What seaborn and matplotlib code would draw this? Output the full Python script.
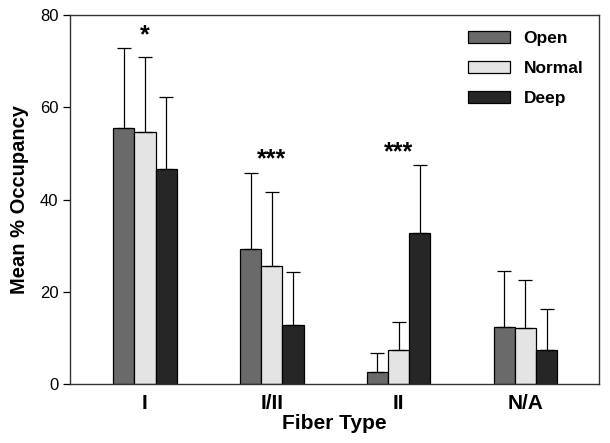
import pandas as pd
import matplotlib.pyplot as plt
import seaborn as sns
import numpy as np

# --- data ---
fiber_types = ['I', 'I/II', 'II', 'N/A']
conditions = ['Open', 'Normal', 'Deep']
open_mean = [55.5, 29.2, 2.6, 12.4]
normal_mean = [54.7, 25.7, 7.3, 12.1]
deep_mean = [46.6, 12.9, 32.8, 7.4]
open_sd = [17.3, 16.6, 4.2, 12.1]
normal_sd = [16.1, 15.9, 6.1, 10.5]
deep_sd = [15.7, 11.5, 14.6, 8.8]
signif = ['*', '***', '***', '']

colors = ['#6a6a6a', '#e4e4e4', '#262626']

rows = []
for cond, means, sds in zip(conditions, [open_mean, normal_mean, deep_mean],
                            [open_sd, normal_sd, deep_sd]):
    for ft, m, s in zip(fiber_types, means, sds):
        rows.append({'Fiber Type': ft, 'Condition': cond, 'Mean': m, 'SD': s})
df = pd.DataFrame(rows)

sns.set_style('ticks', {'text.color': 'black', 'axes.labelcolor': 'black',
                        'xtick.color': 'black', 'ytick.color': 'black'})
plt.rcParams['font.family'] = ['Liberation Sans', 'DejaVu Sans']

fig = plt.figure(figsize=(6.1, 4.43), dpi=100)
ax = fig.add_axes([0.115, 0.133, 0.867, 0.833])

sns.barplot(data=df, x='Fiber Type', y='Mean', hue='Condition',
            order=fiber_types, hue_order=conditions, palette=colors,
            errorbar=None, width=0.5, edgecolor='black', linewidth=0.9,
            saturation=1, ax=ax)

# one-sided (upward) error bars on each bar
for cond, container in zip(conditions, ax.containers):
    sub = df[df['Condition'] == cond].set_index('Fiber Type').loc[fiber_types]
    xs = [p.get_x() + p.get_width() / 2 for p in container.patches]
    ys = [p.get_height() for p in container.patches]
    ax.errorbar(xs, ys, yerr=[np.zeros(len(xs)), sub['SD'].values],
                fmt='none', ecolor='black', elinewidth=0.9, capsize=5,
                capthick=0.9, zorder=1)

# significance markers above each group
for i, (ft, mark) in enumerate(zip(fiber_types, signif)):
    if not mark:
        continue
    top = df[df['Fiber Type'] == ft].eval('Mean + SD').max()
    ax.text(i, top + 0.3, mark, ha='center', va='bottom',
            fontsize=18, fontweight='bold')

ax.set_ylim(0, 80)
ax.set_xlim(-0.59, 3.58)
ax.set_yticks([0, 20, 40, 60, 80])
ax.tick_params(axis='y', labelsize=12, length=5, width=0.9)
ax.tick_params(axis='x', length=0, labelsize=15, pad=7)
for lbl in ax.get_xticklabels():
    lbl.set_fontweight('bold')
for sp in ax.spines.values():
    sp.set_visible(True)
    sp.set_linewidth(1.0)
    sp.set_color('#333333')

ax.set_xlabel('Fiber Type', fontsize=15, fontweight='bold', labelpad=1)
ax.set_ylabel('Mean % Occupancy', fontsize=14.5, fontweight='bold', labelpad=8)

leg = ax.legend(loc='upper right', frameon=False, fontsize=12.5,
                handlelength=2.4, handleheight=0.7, labelspacing=0.85,
                handletextpad=0.8, borderaxespad=0.5)
for t in leg.get_texts():
    t.set_fontweight('bold')

fig.savefig('out.png', dpi=100)
